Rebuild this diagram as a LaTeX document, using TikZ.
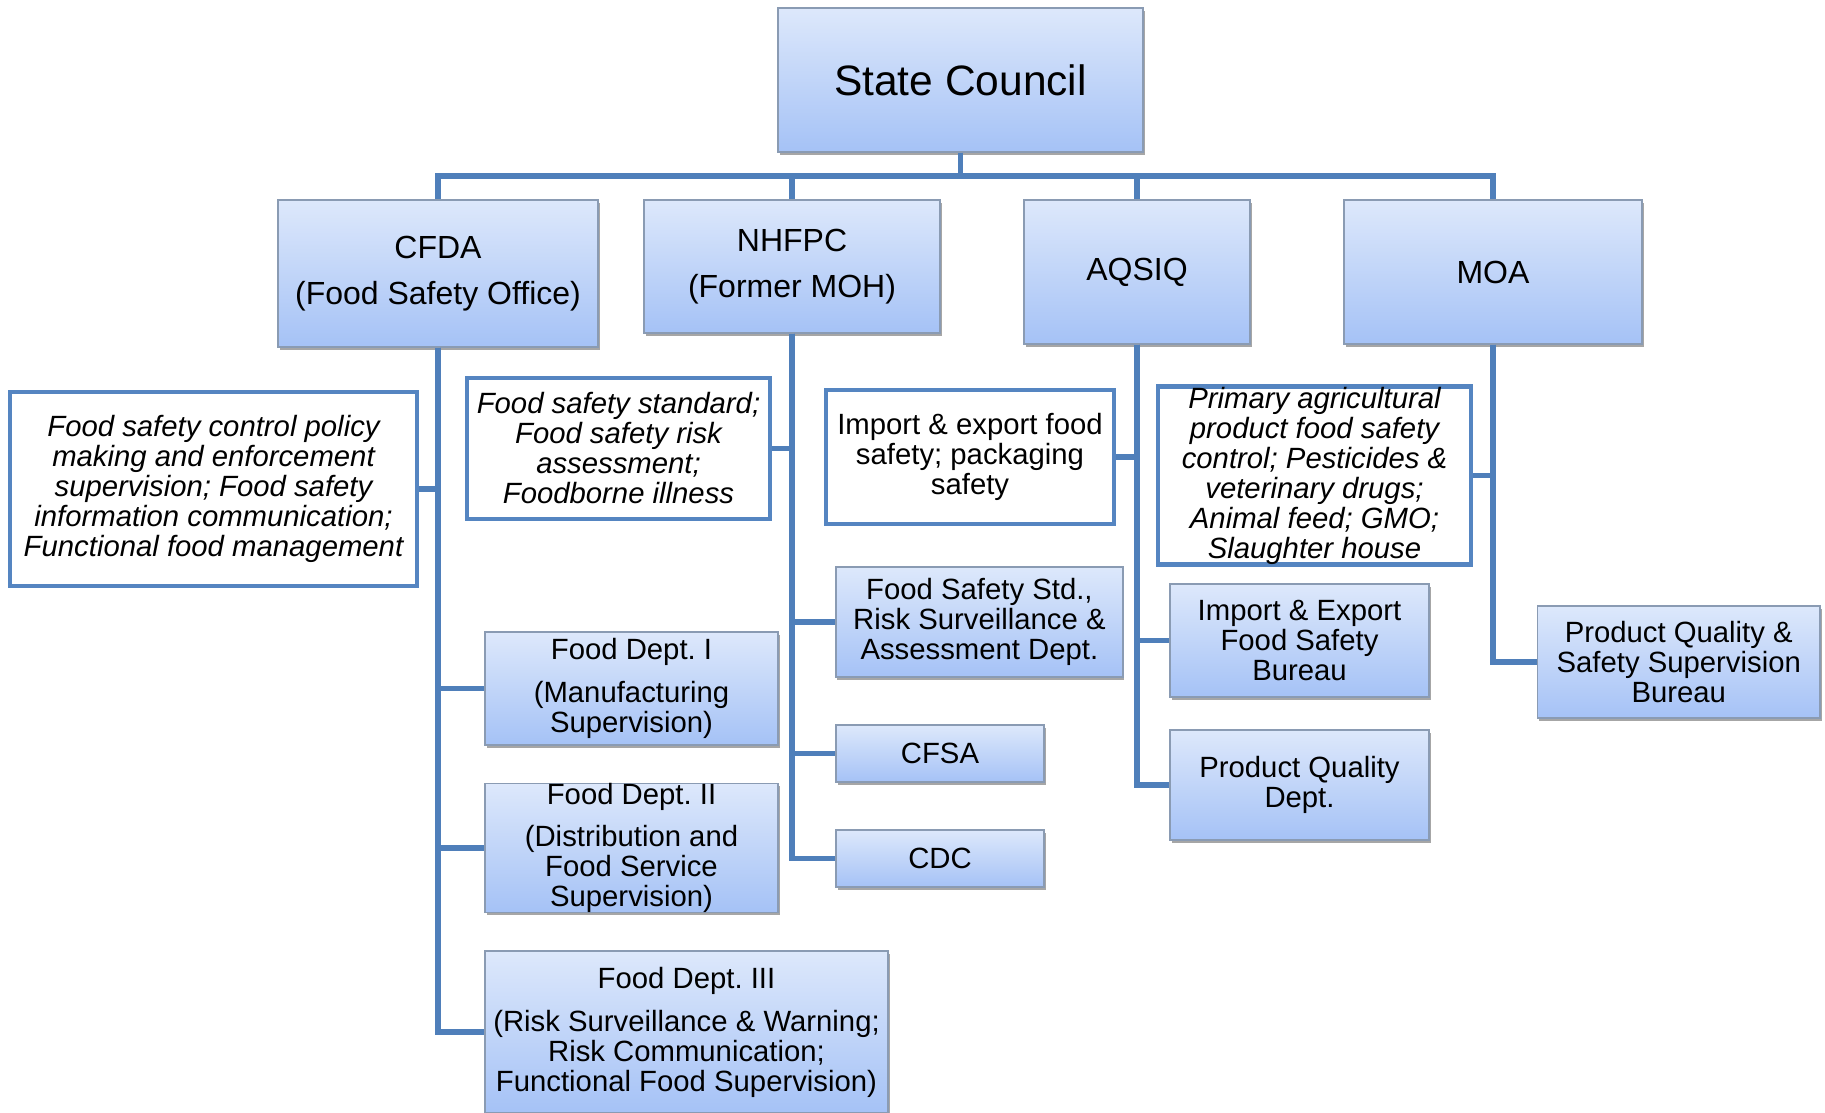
\documentclass[tikz,border=0pt]{standalone}
\usepackage{fontspec}
\setmainfont{Liberation Sans}
\frenchspacing
\usetikzlibrary{shadows}
\definecolor{gtop}{HTML}{DDE8FB}
\definecolor{gbot}{HTML}{A5C2F6}
\definecolor{gborder}{HTML}{8A9BB3}
\definecolor{linkblue}{HTML}{4F7FBA}
\definecolor{wborder}{HTML}{5585C1}
\tikzset{
  gbox/.style={rectangle, draw=gborder, line width=1.2pt, top color=gtop, bottom color=gbot,
    align=center, inner sep=0pt, text=black,
    drop shadow={shadow xshift=1.5pt, shadow yshift=-3pt, opacity=0.35, fill=black},
    font=\fontsize{29.3}{30}\selectfont},
  topbox/.style={gbox, font=\fontsize{32}{33}\selectfont},
  wbox/.style={rectangle, draw=wborder, line width=4.8pt, fill=white, align=center,
    inner sep=0pt, font=\fontsize{29.3}{30}\selectfont},
  conn/.style={draw=linkblue, line width=5.5pt}
}
\begin{document}
\begin{tikzpicture}[x=1pt,y=-1pt]
\useasboundingbox (0,0) rectangle (1825,1113);
\clip (0,0) rectangle (1825,1113);
% top
\node[gbox, font=\fontsize{42.5}{46}\selectfont, minimum width=365pt, minimum height=144pt] (sc) at (960.5,80) {State Council};
% level 1
\node[topbox, minimum width=320pt, minimum height=147pt] (cfda) at (438,273.5) {CFDA\\[13pt](Food Safety Office)};
\node[topbox, minimum width=296pt, minimum height=133pt] (nhfpc) at (792,266.5) {NHFPC\\[13pt](Former MOH)};
\node[topbox, minimum width=226pt, minimum height=144pt] (aqsiq) at (1137,272) {AQSIQ};
\node[topbox, minimum width=298pt, minimum height=144pt] (moa) at (1493,272) {MOA};
% white description boxes
\node[wbox, minimum width=407pt, minimum height=194pt] (t1) at (213.5,489) {\itshape Food safety control policy\\\itshape making and enforcement\\\itshape supervision; Food safety\\\itshape information communication;\\\itshape Functional food management};
\node[wbox, minimum width=303pt, minimum height=141pt] (t2) at (618.5,448.5) {\itshape Food safety standard;\\\itshape Food safety risk\\\itshape assessment;\\\itshape Foodborne illness};
\node[wbox, minimum width=288pt, minimum height=134pt] (t3) at (970,457) {Import \& export food\\safety; packaging\\safety};
\node[wbox, minimum width=313pt, minimum height=169pt] (t4) at (1314.5,475.5) {\itshape Primary agricultural\\\itshape product food safety\\\itshape control; Pesticides \&\\\itshape veterinary drugs;\\\itshape Animal feed; GMO;\\\itshape Slaughter house};
% CFDA departments
\node[gbox, minimum width=293pt, minimum height=113pt] (fd1) at (631.5,688.5) {Food Dept. I\\[13pt](Manufacturing\\Supervision)};
\node[gbox, minimum width=293pt, minimum height=112.5pt] (fd2) at (631.5,847.75) {Food Dept. II\\[12pt](Distribution and\\Food Service\\Supervision)};
\node[gbox, minimum width=403pt, minimum height=162pt] (fd3) at (686.5,1032) {Food Dept. III\\[13pt](Risk Surveillance \& Warning;\\Risk Communication;\\Functional Food Supervision)};
% NHFPC units
\node[gbox, minimum width=287pt, minimum height=110pt] (fss) at (979.4,622) {Food Safety Std.,\\Risk Surveillance \&\\Assessment Dept.};
\node[gbox, minimum width=208pt, minimum height=57pt] (cfsa) at (940,753.5) {CFSA};
\node[gbox, minimum width=208pt, minimum height=57pt] (cdc) at (940,858.5) {CDC};
% AQSIQ units
\node[gbox, minimum width=259pt, minimum height=113pt] (iefsb) at (1299.5,640.5) {Import \& Export\\Food Safety\\Bureau};
\node[gbox, minimum width=259pt, minimum height=110pt] (pqd) at (1299.5,785) {Product Quality\\Dept.};
% MOA unit
\node[gbox, minimum width=282.5pt, minimum height=112pt] (pqssb) at (1678.75,662) {Product Quality \&\\Safety Supervision\\Bureau};
% connectors
\coordinate (bus) at (960.5,176);
\draw[conn] (sc.south) -- (bus);
\draw[conn] (bus) -| (cfda.north);
\draw[conn] (bus) -| (nhfpc.north);
\draw[conn] (bus) -| (aqsiq.north);
\draw[conn] (bus) -| (moa.north);
\draw[conn] (cfda.south) |- (t1.east);
\draw[conn] (cfda.south) |- (fd1.west);
\draw[conn] (cfda.south) |- (fd2.west);
\draw[conn] (cfda.south) |- (fd3.west);
\draw[conn] (nhfpc.south) |- (t2.east);
\draw[conn] (nhfpc.south) |- (fss.west);
\draw[conn] (nhfpc.south) |- (cfsa.west);
\draw[conn] (nhfpc.south) |- (cdc.west);
\draw[conn] (aqsiq.south) |- (t3.east);
\draw[conn] (aqsiq.south) |- (iefsb.west);
\draw[conn] (aqsiq.south) |- (pqd.west);
\draw[conn] (moa.south) |- (t4.east);
\draw[conn] (moa.south) |- (pqssb.west);
\end{tikzpicture}
\end{document}
